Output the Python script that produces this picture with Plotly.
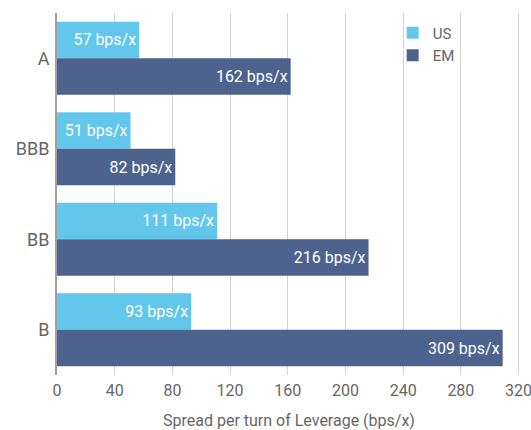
import plotly.graph_objects as go

categories = ["A", "BBB", "BB", "B"]
us_values = [57, 51, 111, 93]
em_values = [162, 82, 216, 309]
x_ticks = [0, 40, 80, 120, 160, 200, 240, 280, 320]
x_title = "Spread per turn of Leverage (bps/x)"

US_COLOR = "#63C7EC"
EM_COLOR = "#4E628E"
FONT = "Roboto"

fig = go.Figure()
fig.add_trace(go.Bar(
    y=categories, x=us_values, name="US", orientation="h",
    marker=dict(color=US_COLOR, line=dict(width=0)),
    text=[f"{v} bps/x" for v in us_values], textposition="inside",
    insidetextanchor="end", textfont=dict(color="white", size=16, family=FONT),
))
fig.add_trace(go.Bar(
    y=categories, x=em_values, name="EM", orientation="h",
    marker=dict(color=EM_COLOR, line=dict(width=0)),
    text=[f"{v} bps/x" for v in em_values], textposition="inside",
    insidetextanchor="end", textfont=dict(color="white", size=16, family=FONT),
))

fig.update_layout(
    width=531, height=430,
    margin=dict(l=57, r=11, t=13, b=55, autoexpand=False),
    paper_bgcolor="white", plot_bgcolor="white",
    barmode="group", bargap=0.193, bargroupgap=0,
    font=dict(family=FONT, color="#666666", size=16),
    uniformtext=dict(minsize=8, mode="show"),
    legend=dict(x=0.725, y=0.99, xanchor="left", yanchor="top",
                bgcolor="rgba(0,0,0,0)", font=dict(size=15, color="#666666"),
                tracegroupgap=2),
    xaxis=dict(
        range=[0, 321], tickvals=x_ticks, showgrid=True, gridcolor="#D3D3D3",
        gridwidth=1, zeroline=False, showline=False, ticks="",
        ticklabeloverflow="allow", automargin=False, ticklabelstandoff=4,
        tickfont=dict(size=16, color="#666666"),
    ),
    yaxis=dict(
        autorange="reversed", showgrid=False, showline=True, linecolor="#A0A0A0",
        linewidth=2, ticks="", ticklabelstandoff=2, automargin=False,
        tickfont=dict(size=18, color="#666666"),
    ),
    annotations=[dict(
        text=x_title, xref="paper", yref="paper", x=0.5, y=0,
        xanchor="center", yanchor="middle", yshift=-45, showarrow=False,
        font=dict(size=16, color="#666666", family=FONT),
    )],
)

fig.write_html("out.html")
